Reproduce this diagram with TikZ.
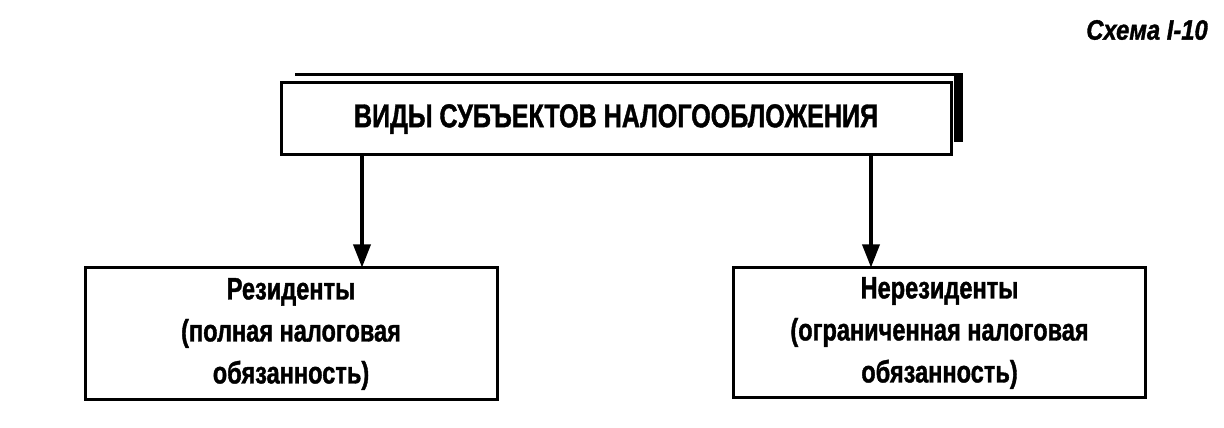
\documentclass[tikz,border=0pt]{standalone}
\usepackage{fontspec}
\setmainfont{Liberation Sans}[FakeStretch=0.76, BoldFeatures={FakeBold=1.2}]
\newfontfamily\titlefont{Liberation Sans}[FakeStretch=0.85, BoldItalicFeatures={FakeBold=1.2}]
\usetikzlibrary{arrows.meta}
\begin{document}
\begin{tikzpicture}[x=1pt,y=1pt,
  box/.style={draw=black, line width=3pt, fill=white, align=center, inner sep=0pt, font=\bfseries},
  lowbox/.style={box, minimum width=412pt, font=\bfseries\fontsize{31}{42}\selectfont},
  arr/.style={line width=3.5pt, -{Triangle[length=23pt,width=17pt]}, shorten >=-1pt}]
\useasboundingbox (0,0) rectangle (1224,428);
% shadow of top box
\fill (295,355) rectangle (963,352);
\fill (954,355) rectangle (963,286);
\node[box, minimum width=670pt, minimum height=72pt, font=\bfseries\fontsize{33}{38}\selectfont] (top) at (616,309) {ВИДЫ СУБЪЕКТОВ НАЛОГООБЛОЖЕНИЯ};
\node[lowbox, minimum height=132pt] (res) at (291,94) {Резиденты\\(полная налоговая\\обязанность)};
\node[lowbox, minimum height=130pt] (nonres) at (939.5,95) {Нерезиденты\\(ограниченная налоговая\\обязанность)};
\node[anchor=east, inner sep=0pt, font=\titlefont\bfseries\itshape\fontsize{28}{32}\selectfont] (title) at (1208,398) {Схема I-10};
\coordinate (la) at (362,0);
\coordinate (ra) at (871,0);
\draw[arr] (la |- top.south) -- (la |- res.north);
\draw[arr] (ra |- top.south) -- (ra |- nonres.north);
\end{tikzpicture}
\end{document}
